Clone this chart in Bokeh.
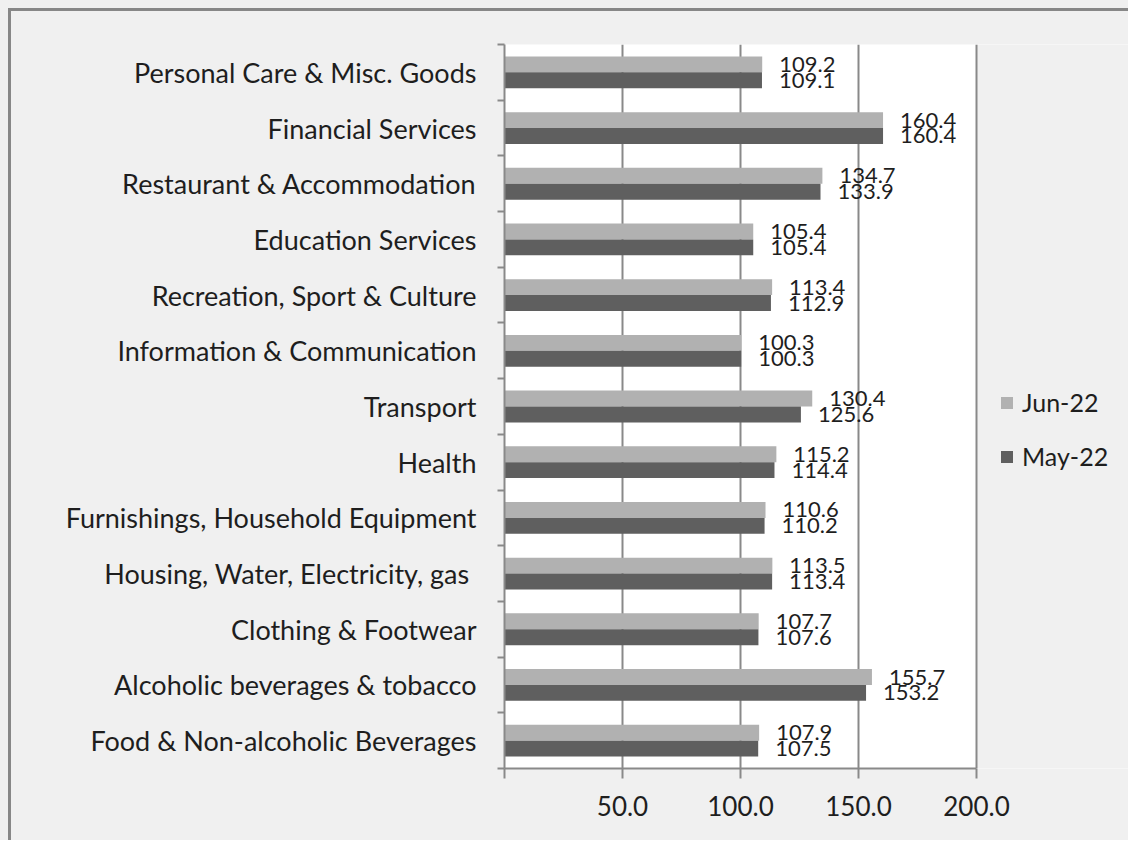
from bokeh.plotting import figure
from bokeh.layouts import column
from bokeh.models import (Range1d, FixedTicker, ColumnDataSource, Legend, LegendItem,
                          NumeralTickFormatter, BoxAnnotation)
from bokeh.core.properties import value
from bokeh.embed import file_html
from bokeh.resources import INLINE

categories = ["Food & Non-alcoholic Beverages", "Alcoholic beverages & tobacco", "Clothing & Footwear",
              "Housing, Water, Electricity, gas ", "Furnishings, Household Equipment", "Health", "Transport",
              "Information & Communication", "Recreation, Sport & Culture", "Education Services",
              "Restaurant & Accommodation", "Financial Services", "Personal Care & Misc. Goods"]
jun22 = [107.9, 155.7, 107.7, 113.5, 110.6, 115.2, 130.4, 100.3, 113.4, 105.4, 134.7, 160.4, 109.2]
may22 = [107.5, 153.2, 107.6, 113.4, 110.2, 114.4, 125.6, 100.3, 112.9, 105.4, 133.9, 160.4, 109.1]
x_ticks = [0, 50, 100, 150, 200]
AXIS_MAX = 200

FONT = "Lato"
GRID = "#898989"
TXT = "#1e1e1e"
BG = "#f0f0f0"
BAR_H = 1 / 3.5

W, H = 1120, 832
LEFT, TOP, BOTTOM = 493, 33, 75
PLOT_W = 472  # pixel width of the 0..200 plot area
x_end = AXIS_MAX * (W - LEFT) / PLOT_W

idx = list(range(len(categories)))
src = ColumnDataSource(dict(
    yj=[i + BAR_H / 2 for i in idx], ym=[i - BAR_H / 2 for i in idx],
    jun=jun22, may=may22,
    jl=[f"{v:.1f}" for v in jun22], ml=[f"{v:.1f}" for v in may22],
))

p = figure(width=W, height=H, output_backend="svg", toolbar_location=None,
           x_range=Range1d(0, x_end), y_range=Range1d(-0.5, len(categories) - 0.5),
           min_border_left=LEFT, min_border_right=0, min_border_top=TOP, min_border_bottom=BOTTOM)
p.background_fill_color = "white"
p.border_fill_color = BG
p.outline_line_color = None
p.margin = (8, 0, 0, 8)
p.styles = {"border-top": "3px solid #878787", "border-left": "3px solid #878787"}

# grey area right of the 200 line (outside the plot area)
p.add_layout(BoxAnnotation(left=AXIS_MAX, fill_color=BG, fill_alpha=1, line_color=None, level="image"))

# x axis
p.xaxis.ticker = FixedTicker(ticks=x_ticks)
p.xaxis.bounds = (0, AXIS_MAX)
p.xaxis.formatter = NumeralTickFormatter(format="0.0")
p.xaxis.major_label_overrides = {0: ""}
p.xaxis.axis_line_color = GRID
p.xaxis.axis_line_width = 2
p.xaxis.major_tick_line_color = GRID
p.xaxis.major_tick_line_width = 2
p.xaxis.major_tick_out = 10
p.xaxis.major_tick_in = 0
p.xaxis.minor_tick_line_color = None
p.xaxis.major_label_standoff = 17
p.xaxis.major_label_text_font = FONT
p.xaxis.major_label_text_font_size = "26px"
p.xaxis.major_label_text_color = TXT
p.xgrid.ticker = FixedTicker(ticks=x_ticks)
p.xgrid.grid_line_color = GRID
p.xgrid.grid_line_width = 2
p.ygrid.visible = False

# y axis
p.yaxis.ticker = FixedTicker(ticks=idx, minor_ticks=[i - 0.5 for i in range(len(categories) + 1)])
p.yaxis.major_label_overrides = {i: c for i, c in zip(idx, categories)}
p.yaxis.major_tick_out = 0
p.yaxis.major_tick_in = 0
p.yaxis.major_tick_line_color = None
p.yaxis.minor_tick_out = 7
p.yaxis.minor_tick_in = 0
p.yaxis.minor_tick_line_color = GRID
p.yaxis.minor_tick_line_width = 2
p.yaxis.axis_line_color = GRID
p.yaxis.axis_line_width = 2
p.yaxis.major_label_standoff = 21
p.yaxis.major_label_text_font = FONT
p.yaxis.major_label_text_font_size = "27px"
p.yaxis.major_label_text_color = TXT

rj = p.hbar(y="yj", right="jun", left=0, height=BAR_H, source=src, fill_color="#b1b1b1", line_color=None)
rm = p.hbar(y="ym", right="may", left=0, height=BAR_H, source=src, fill_color="#5f5f5f", line_color=None)

for ycol, xcol, lab in (("yj", "jun", "jl"), ("ym", "may", "ml")):
    p.text(x=xcol, y=ycol, text=lab, source=src, x_offset=17, text_baseline="middle", text_align="left",
           text_font=value(FONT), text_font_size="22px", text_color=TXT)

legend = Legend(items=[LegendItem(label="Jun-22", renderers=[rj]), LegendItem(label="May-22", renderers=[rm])],
                location=(495, 297), glyph_width=15, glyph_height=15, label_height=30, spacing=24,
                padding=0, margin=0, border_line_color=None, background_fill_alpha=0,
                label_text_font=FONT, label_text_font_size="25px", label_text_color=TXT, label_standoff=8)
p.add_layout(legend)

root = column(p, styles={"background-color": BG})
open("out.html", "w").write(file_html(root, INLINE))
